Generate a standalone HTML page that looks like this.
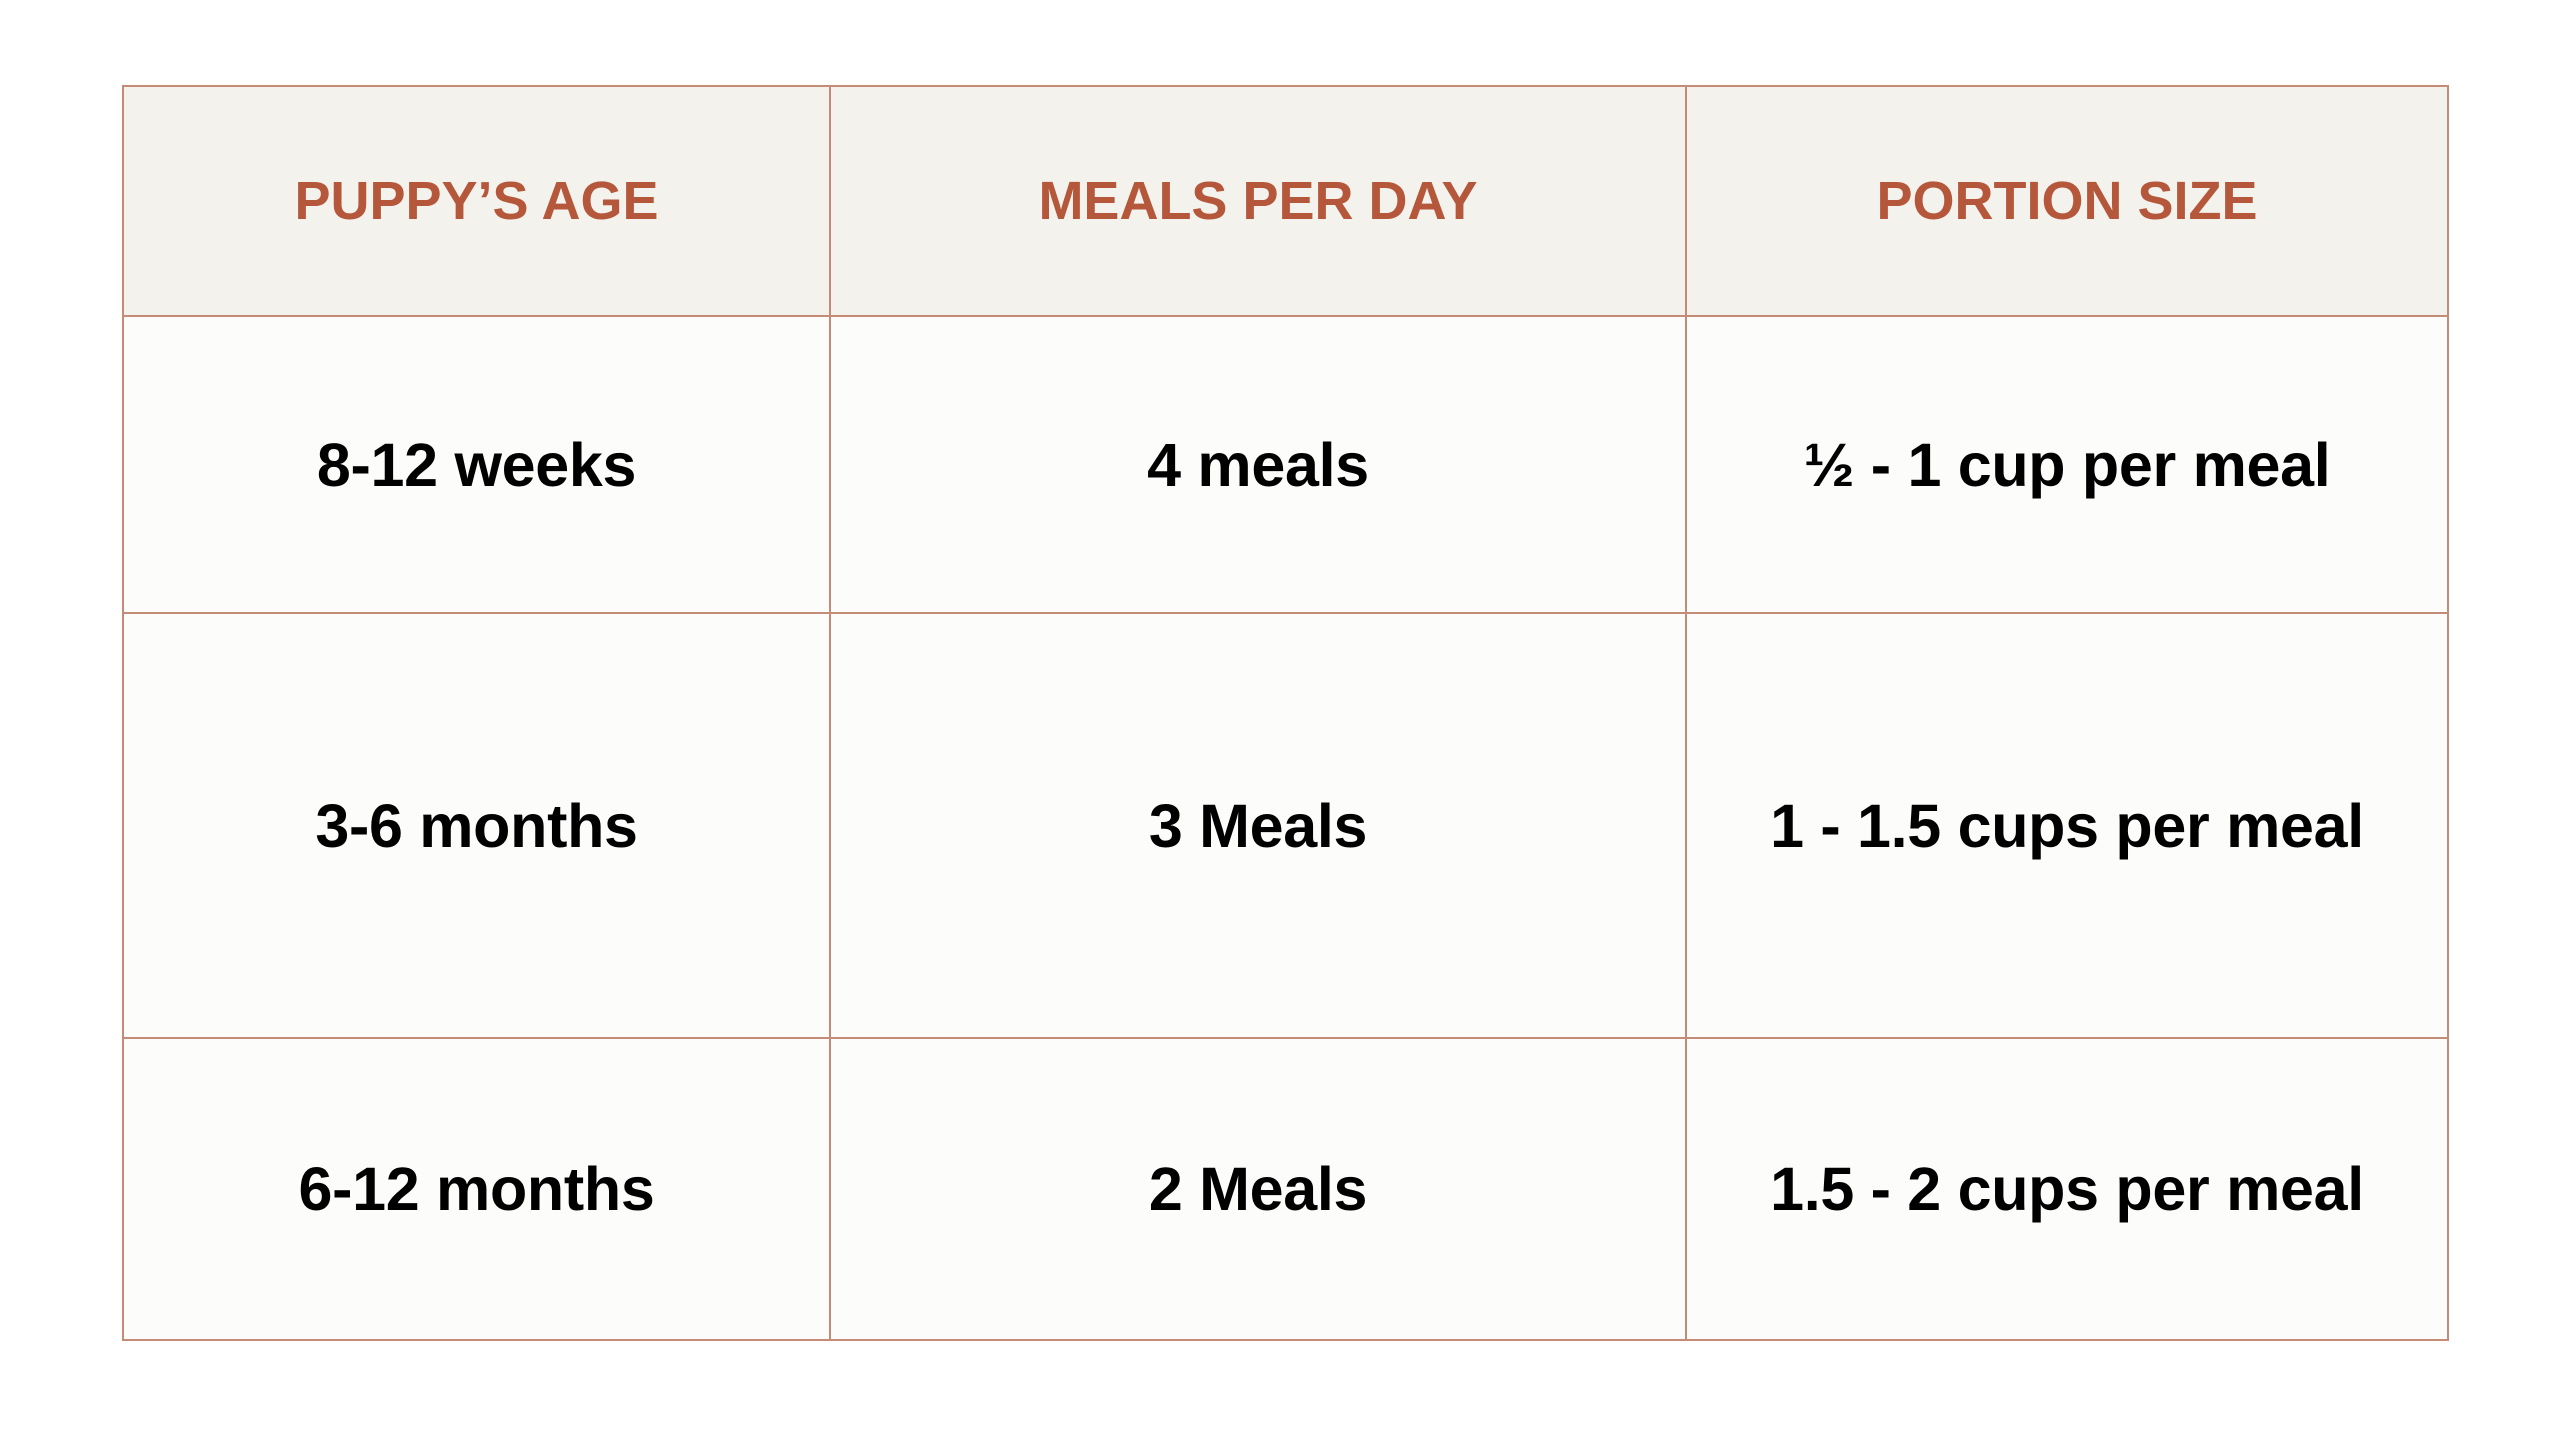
<!DOCTYPE html>
<html><head><meta charset="utf-8"><style>
html,body{margin:0;padding:0;width:2560px;height:1440px;background:#fff;overflow:hidden}
table{position:absolute;left:122px;top:85px;width:2325px;border-collapse:collapse;table-layout:fixed;font-family:"Liberation Sans",sans-serif;font-weight:bold}
td,th{border:2px solid #c48b76;text-align:center;vertical-align:middle;padding:0}
th{background:#f4f2ed;color:#b5573a;font-size:54px;letter-spacing:0px;height:228px}
td{background:#fcfcfa;color:#000;font-size:61px;letter-spacing:-0.3px}
</style></head><body>
<table>
<colgroup><col style="width:707px"><col style="width:856px"><col style="width:762px"></colgroup>
<tr>
<th>PUPPY’S AGE</th>
<th>MEALS PER DAY</th>
<th>PORTION SIZE</th></tr>
<tr style="height:297px">
<td>8-12 weeks</td>
<td>4 meals</td>
<td>½ - 1 cup per meal</td></tr>
<tr style="height:425px">
<td>3-6 months</td>
<td>3 Meals</td>
<td>1 - 1.5 cups per meal</td></tr>
<tr style="height:302px">
<td>6-12 months</td>
<td>2 Meals</td>
<td>1.5 - 2 cups per meal</td></tr>
</table>
</body></html>
